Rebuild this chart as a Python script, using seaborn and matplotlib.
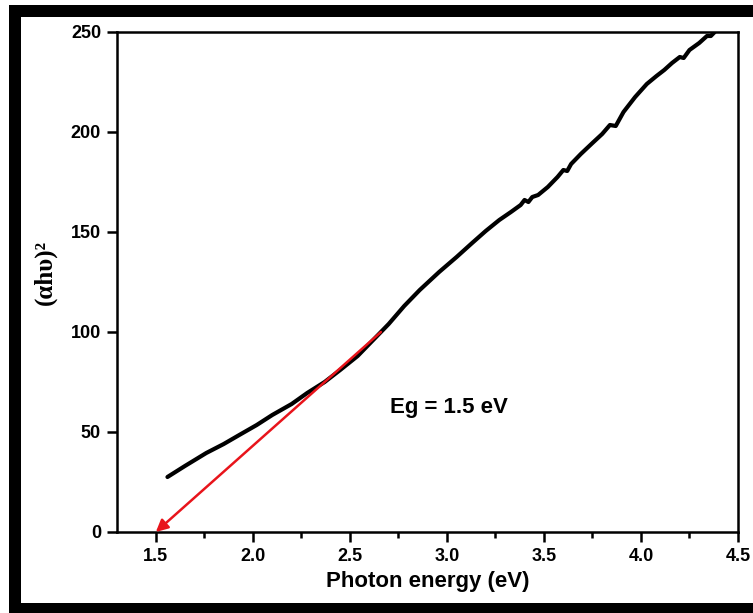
import matplotlib
matplotlib.use("Agg")
import matplotlib.pyplot as plt
import numpy as np
import pandas as pd
import seaborn as sns
from matplotlib.patches import Rectangle
from matplotlib.ticker import MultipleLocator

# Tauc plot data
energy = [1.56, 1.65, 1.76, 1.85, 1.93, 2.02, 2.10, 2.20, 2.28, 2.37, 2.45, 2.54,
          2.62, 2.70, 2.78, 2.86, 2.96, 3.05, 3.13, 3.20, 3.27, 3.33, 3.38, 3.40,
          3.42, 3.44, 3.47, 3.52, 3.57, 3.60, 3.62, 3.64, 3.69, 3.75, 3.80, 3.84,
          3.87, 3.91, 3.97, 4.03, 4.08, 4.12, 4.16, 4.20, 4.22, 4.25, 4.30, 4.34,
          4.36, 4.38]
alpha_hv2 = [27.5, 33.0, 39.5, 44.0, 48.5, 53.5, 58.5, 64.0, 69.5, 75.0, 81.0, 88.0,
             96.0, 104.0, 113.0, 121.0, 130.0, 137.5, 144.5, 150.5, 156.0, 160.0, 163.5, 166.0,
             165.0, 167.5, 168.5, 172.5, 177.5, 181.0, 180.5, 184.0, 189.0, 194.5, 199.0, 203.5,
             203.0, 210.0, 217.5, 224.0, 228.0, 231.0, 234.5, 237.5, 237.0, 241.0, 244.5, 248.0,
             248.0, 250.0]

# tangent line extrapolated to the x axis
fit_start = (2.66, 100.0)
fit_end = (1.50, 0.0)
eg_label = "Eg = 1.5 eV"
eg_pos = (3.01, 62)

x_ticks = [1.5, 2.0, 2.5, 3.0, 3.5, 4.0, 4.5]
y_ticks = [0, 50, 100, 150, 200, 250]

sns.set_style("ticks")
plt.rcParams["font.family"] = ["Liberation Sans", "DejaVu Sans"]
plt.rcParams["text.color"] = "black"
plt.rcParams["axes.labelcolor"] = "black"
plt.rcParams["xtick.color"] = "black"
plt.rcParams["ytick.color"] = "black"

fig = plt.figure(figsize=(7.53, 6.13), dpi=100)
W, H = 753, 613

# 外框（黑色边框）
fig.add_artist(Rectangle((9 / W, 0), 1, (613 - 5) / H, transform=fig.transFigure,
                         facecolor="black", edgecolor="none", zorder=0))
fig.add_artist(Rectangle((21 / W, (613 - 603) / H), 1, (603 - 17) / H, transform=fig.transFigure,
                         facecolor="white", edgecolor="none", zorder=0))

ax = fig.add_axes([117 / W, (613 - 532) / H, (738 - 117) / W, (532 - 32) / H])
ax.set_facecolor("none")

df = pd.DataFrame({"energy": energy, "ahv2": alpha_hv2})
sns.lineplot(data=df, x="energy", y="ahv2", ax=ax, color="black", linewidth=3,
             sort=False, estimator=None)

ax.annotate("", xy=fit_end, xytext=fit_start,
            arrowprops=dict(arrowstyle="-|>", color="#e8141b", lw=1.8,
                            mutation_scale=18, shrinkA=0, shrinkB=0))

ax.text(eg_pos[0], eg_pos[1], eg_label, fontsize=16, fontweight="bold",
        ha="center", va="center")

ax.set_xlim(1.3, 4.5)
ax.set_ylim(0, 250)
ax.set_xticks(x_ticks)
ax.set_yticks(y_ticks)
ax.set_xticklabels([f"{t:.1f}" for t in x_ticks])
ax.xaxis.set_minor_locator(MultipleLocator(0.25))

for s in ax.spines.values():
    s.set_linewidth(1.8)
    s.set_color("black")

ax.tick_params(axis="both", which="major", length=7.5, width=1.8, labelsize=13, pad=4)
ax.tick_params(axis="x", which="minor", length=4, width=1.8)
for lab in ax.get_xticklabels() + ax.get_yticklabels():
    lab.set_fontweight("bold")

ax.set_xlabel("Photon energy (eV)", fontsize=16, fontweight="bold", labelpad=4)
ax.set_ylabel("")
fig.text(45 / W, 1 - 272 / H, "(αhυ)²", rotation=90, fontsize=18, fontweight="bold",
         family=["Liberation Serif", "DejaVu Serif"], ha="center", va="center")

fig.savefig("out.png", dpi=100)
